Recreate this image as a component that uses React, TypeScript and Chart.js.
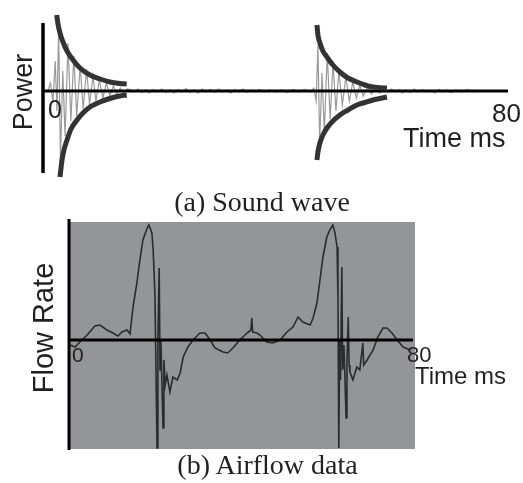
import React, { useEffect, useRef } from "react";
import { Chart, registerables } from "chart.js";

Chart.register(...registerables);

// ---------- Panel (a): sound wave ----------
const soundTime = [
  0.8, 1.3, 1.7, 2.1, 2.4, 2.7, 3.0, 3.4, 3.8, 4.3, 4.8, 5.3, 5.8, 6.4, 6.9, 7.5, 8.0, 8.6, 9.1, 9.7,
  10.3, 10.9, 11.5, 12.1, 12.7, 13.3, 13.9, 14.5,
  15.0, 15.6, 16.3, 17.0, 17.6, 18.3, 19.0, 19.7, 20.4, 21.1, 21.8, 22.5, 23.2, 23.9, 24.6, 25.3,
  26.0, 26.7, 27.4, 28.1, 28.8, 29.5, 30.2, 30.9, 31.6, 32.3, 33.0, 33.7, 34.4, 35.1, 35.8, 36.5,
  37.2, 38.0, 39.0, 40.0, 41.0, 42.0, 43.0, 44.0, 45.0, 46.0,
  46.6, 47.0, 47.3, 47.6, 48.0, 48.4, 48.9, 49.4, 49.9, 50.4, 50.9, 51.5, 52.1, 52.7, 53.3, 53.9,
  54.5, 55.1, 55.8, 56.5, 57.2, 57.9, 58.6,
  59.3, 59.9, 60.6, 61.2, 61.8, 62.5, 63.2, 63.9, 64.6, 65.3, 66.0, 66.7, 67.4, 68.1, 68.8, 69.5,
  70.2, 71.0, 72.0, 73.0, 74.0, 75.0, 76.0,
];
const soundPower = [
  0, 8, -12, 30, -20, 62, -70, 20, -45, 48, -30, 35, -25, 26, -18, 22, -13, 15, -10, 11,
  -7, 8, -5, 5, -3, 3, -2, 2,
  1.5, -1, 2, -1.5, 1, -2, 1.5, -1, 2, -1.5, 1, -2, 1.5, -1, 2.5, -1.5,
  1, -2, 2, -1, 1.5, -1.5, 2, -1, 1, -2, 1.5, -1, 2, -1.5, 1, -1,
  1.5, -1, 1, -1, 1, -1.5, 1.5, -1, 1.5, -1,
  3, -10, 46, -50, 18, -42, 38, -28, 28, -20, 20, -14, 14, -10, 9, -7,
  6, -5, 4, -3, 2, -2, 1.5,
  -1.5, 2, -1, 1.5, -2, 1, -1.5, 2, -1, 1.5, -1, 1, -2, 1.5, -1, 1,
  -1.5, 1, -1, 1.5, -1, 0.5, 0,
];

// decay envelopes (time ms, power)
const env1UpperT = [2.36, 2.58, 2.92, 3.44, 4.13, 5.16, 6.36, 8.08, 9.8, 11.5, 13.2, 14.4];
const env1UpperV = [76, 67, 58, 49, 40, 31, 23, 16, 12, 9, 7.5, 7];
const env1LowerT = [2.92, 3.1, 3.27, 3.61, 4.13, 4.82, 5.85, 6.88, 8.08, 9.8, 11.5, 13.2, 14.4];
const env1LowerV = [-86, -77, -69, -59, -49, -38, -29, -22, -16, -11, -7.5, -5, -4];
const env2UpperT = [47.13, 47.3, 47.64, 48.16, 48.85, 49.88, 51.08, 52.46, 54.01, 55.38, 56.76, 57.96, 59.17];
const env2UpperV = [66, 56, 48, 40, 34, 26, 19, 13, 9, 6, 4, 3.3, 3];
const env2LowerT = [47.13, 47.3, 47.64, 48.16, 48.85, 49.88, 51.08, 52.46, 54.01, 55.38, 56.76, 57.96, 59.17];
const env2LowerV = [-69, -61, -52, -44, -37, -30, -24, -19, -14, -11.5, -9, -7.5, -6];

// ---------- Panel (b): airflow ----------
const flowTime = [
  0, 1.2, 2.3, 4.0, 5.8, 7.0, 8.6, 10.0, 11.2, 12.1, 13.3, 14.0, 14.7, 15.6, 16.3, 17.0, 18.0, 18.4,
  19.1, 19.4, 19.8, 20.3, 20.5, 20.8, 21.0, 21.2, 21.7, 21.9, 22.2, 22.6, 23.3, 24.0, 25.0, 25.7,
  26.4, 27.5, 28.7, 30.3, 31.5, 32.7, 33.8, 35.7, 36.8, 38.0, 39.6, 41.3, 42.2, 42.4, 42.6, 43.6,
  44.3, 45.9, 47.3, 49.0, 50.6, 52.0, 53.2, 54.3, 56.0, 56.7, 57.6, 58.3, 59.0, 59.9, 60.6, 61.3,
  61.8, 62.3, 62.5, 62.7, 62.9, 63.1, 63.4, 63.6, 63.9, 64.4, 64.6, 64.9, 65.1, 65.3, 66.0, 66.9,
  67.6, 68.3, 68.5, 69.3, 70.7, 71.8, 73.0, 73.9, 75.1, 76.3, 77.7, 79.3,
];
const flowRate = [
  -5, -7, -2, 5, 14, 15, 10, 7, 4, 8, 10, 6, 33, 57, 80, 100, 112, 115,
  107, 90, 47, -108, 0, 72, -30, 0, -88, -20, -45, -35, -52, -37, -40, -33,
  -17, -7, 0, 7, 7, 0, -8, -12, -13, -8, 0, 7, 10, 22, 8, 7,
  5, -2, -3, 0, 8, 13, 23, 18, 15, 22, 37, 60, 83, 103, 110, 115,
  107, 93, 40, -108, 0, -40, 73, -30, -5, -78, -20, 23, -25, -32, -40, -27,
  -30, -3, -25, -20, -10, 3, 12, 12, 7, 0, -7, -10,
];

const soundTicks = ["0", "80"];
const flowTicks = ["0", "80"];

const xy = (t: number[], v: number[]) => t.map((x, i) => ({ x, y: v[i] }));

const sansFont = "'Liberation Sans', Arial, sans-serif";
const serifFont = "'Liberation Serif', 'Times New Roman', serif";

const grayBg = {
  id: "grayBg",
  beforeDatasetsDraw(chart: any, _args: any, opts: any) {
    if (!opts || !opts.color) return;
    const { ctx, chartArea } = chart;
    ctx.save();
    ctx.fillStyle = opts.color;
    ctx.fillRect(chartArea.left, chartArea.top, chartArea.right - chartArea.left, chartArea.bottom - chartArea.top);
    ctx.restore();
  },
};

function SoundChart() {
  const ref = useRef<HTMLCanvasElement>(null);
  useEffect(() => {
    const envStyle = {
      borderColor: "#333333",
      borderWidth: 5,
      pointRadius: 0,
      cubicInterpolationMode: "monotone" as const,
      clip: false as any,
      fill: false,
    };
    const chart = new Chart(ref.current!, {
      type: "line",
      data: {
        datasets: [
          { ...envStyle, data: xy(env1UpperT, env1UpperV) },
          { ...envStyle, data: xy(env1LowerT, env1LowerV) },
          { ...envStyle, data: xy(env2UpperT, env2UpperV) },
          { ...envStyle, data: xy(env2LowerT, env2LowerV) },
          {
            data: [{ x: 0, y: 0 }, { x: 80, y: 0 }],
            borderColor: "#000",
            borderWidth: 3,
            pointRadius: 0,
            clip: false as any,
          },
          {
            data: [{ x: 0, y: 68 }, { x: 0, y: -82 }],
            borderColor: "#000",
            borderWidth: 3.5,
            pointRadius: 0,
            clip: false as any,
          },
          {
            data: xy(soundTime, soundPower),
            borderColor: "#9a9a9a",
            borderWidth: 1.2,
            pointRadius: 0,
            tension: 0,
            clip: false as any,
          },
        ],
      },
      options: {
        animation: false,
        responsive: false,
        events: [],
        layout: { padding: { left: 43, right: 15, top: 13, bottom: 6 } },
        plugins: { legend: { display: false }, tooltip: { enabled: false } },
        scales: {
          x: { type: "linear", min: 0, max: 80, display: false },
          y: { type: "linear", min: -88, max: 78, display: false },
        },
      },
    });
    return () => chart.destroy();
  }, []);
  return <canvas ref={ref} width={523} height={185} style={{ position: "absolute", left: 0, top: 0 }} />;
}

function FlowChart() {
  const ref = useRef<HTMLCanvasElement>(null);
  useEffect(() => {
    const chart = new Chart(ref.current!, {
      type: "line",
      data: {
        datasets: [
          {
            data: [{ x: 0, y: 0 }, { x: 80, y: 0 }],
            borderColor: "#000",
            borderWidth: 3,
            pointRadius: 0,
            clip: false as any,
          },
          {
            data: [{ x: -0.23, y: 121 }, { x: -0.23, y: -110 }],
            borderColor: "#000",
            borderWidth: 3,
            pointRadius: 0,
            clip: false as any,
          },
          {
            data: xy(flowTime, flowRate),
            borderColor: "#2b2b2b",
            borderWidth: 1.6,
            pointRadius: 0,
            tension: 0,
            clip: false as any,
          },
        ],
      },
      options: {
        animation: false,
        responsive: false,
        events: [],
        layout: { padding: { left: 70, right: 108, top: 22, bottom: 11 } },
        plugins: {
          legend: { display: false },
          tooltip: { enabled: false },
          grayBg: { color: "#939598" },
        } as any,
        scales: {
          x: { type: "linear", min: 0, max: 80.47, display: false },
          y: { type: "linear", min: -109, max: 118, display: false },
        },
      },
      plugins: [grayBg],
    });
    return () => chart.destroy();
  }, []);
  return <canvas ref={ref} width={523} height={260} style={{ position: "absolute", left: 0, top: 200 }} />;
}

const txt = (
  s: string,
  left: number,
  top: number,
  size: number,
  font: string,
  extra: React.CSSProperties = {}
) => (
  <div
    style={{
      position: "absolute",
      left,
      top,
      fontFamily: font,
      fontSize: size,
      lineHeight: 1,
      color: "#231f20",
      whiteSpace: "nowrap",
      ...extra,
    }}
  >
    {s}
  </div>
);

export default function App() {
  return (
    <div style={{ position: "absolute", left: 0, top: 0, width: 523, height: 483, background: "#fff", overflow: "hidden" }}>
      <SoundChart />
      <FlowChart />
      {txt("Power", 22.5, 91.5, 27, sansFont, { transform: "translate(-50%, -50%) rotate(-90deg)" })}
      {txt(soundTicks[0], 48, 96.5, 25, sansFont)}
      {txt(soundTicks[1], 492, 99.5, 26, sansFont)}
      {txt("Time ms", 403, 124.5, 27, sansFont)}
      {txt("(a) Sound wave", 262, 187.5, 28, serifFont, { transform: "translateX(-50%)" })}
      {txt("Flow Rate", 42.5, 327.5, 29, sansFont, { transform: "translate(-50%, -50%) rotate(-90deg)" })}
      {txt(flowTicks[0], 72, 344.3, 21, sansFont)}
      {txt(flowTicks[1], 407, 344, 22, sansFont)}
      {txt("Time ms", 415, 364, 24, sansFont)}
      {txt("(b) Airflow data", 267.5, 450.5, 28, serifFont, { transform: "translateX(-50%)" })}
    </div>
  );
}
